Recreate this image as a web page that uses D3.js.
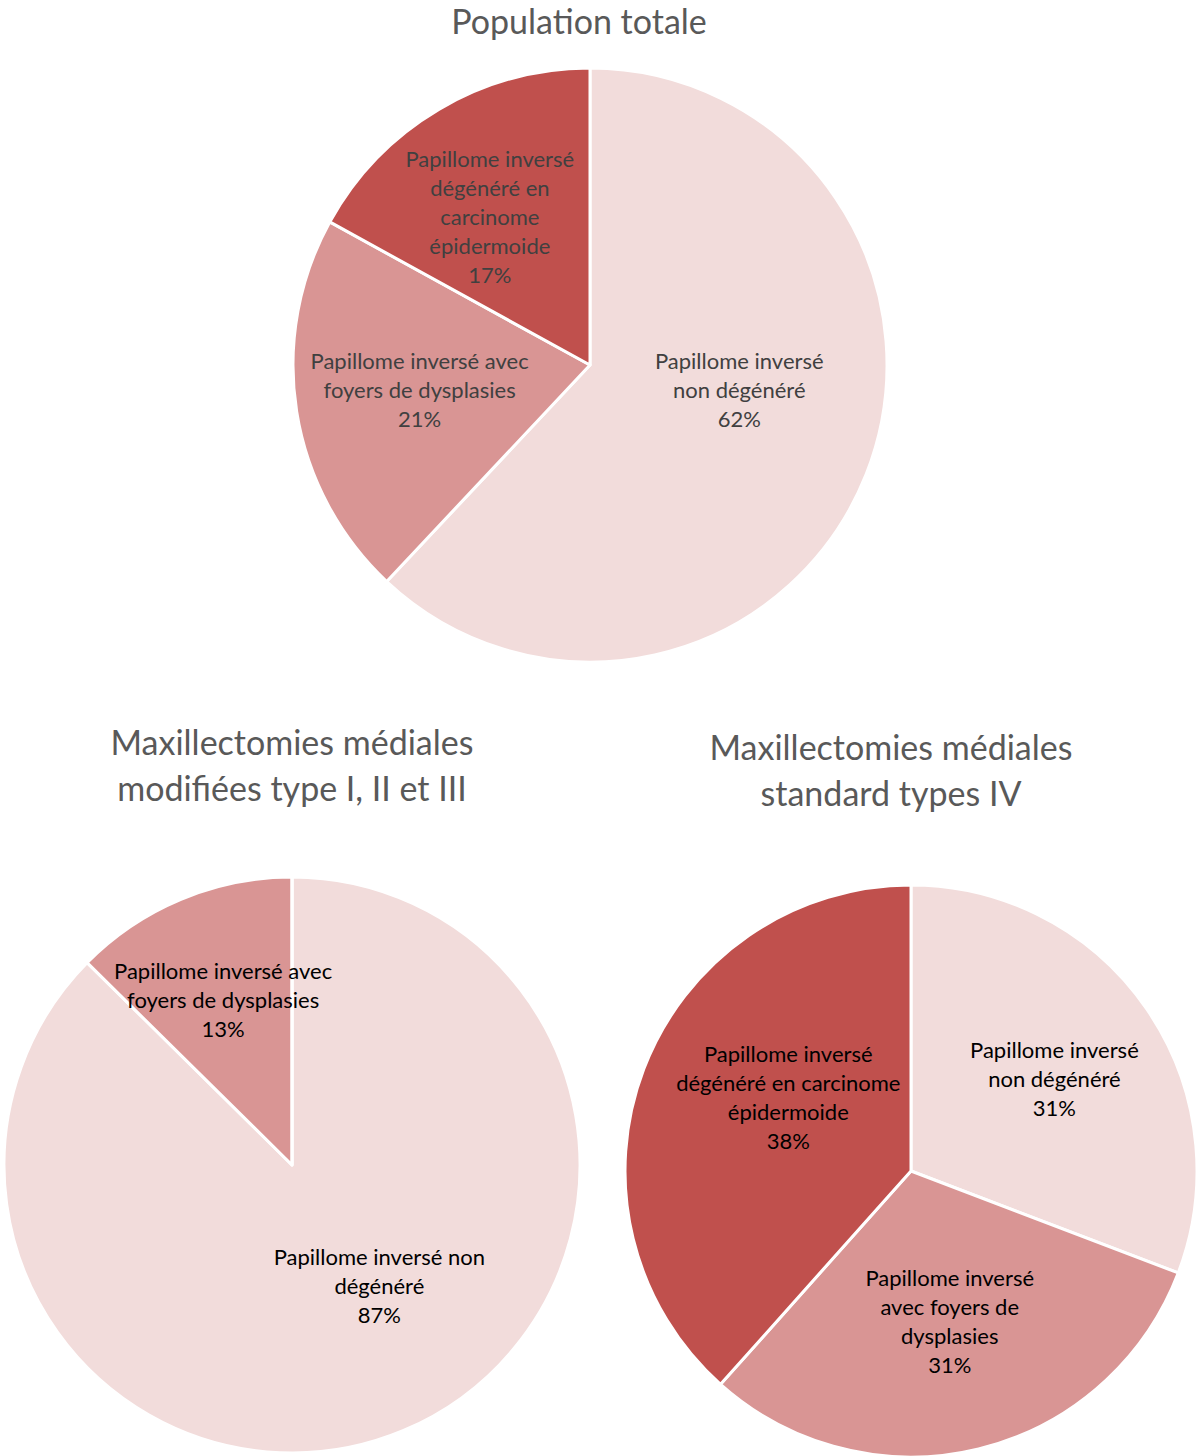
<!DOCTYPE html>
<html lang="en">
<head>
    <meta charset="UTF-8">
    <title>Papillome inversé</title>
    <style>
        body { margin: 0; background: #fff; }
        svg text { font-family: Lato, "Open Sans", sans-serif; }
    </style>
</head>
<body>
    <div id="chart"></div>

    <script src="https://d3js.org/d3.v7.min.js"></script>
    <script>
        // Data (percentages; labels show rounded values)
        const categories = [
            "Papillome inversé non dégénéré",
            "Papillome inversé avec foyers de dysplasies",
            "Papillome inversé dégénéré en carcinome épidermoide"
        ];
        const populationTotale = [62, 21, 17];
        const maxModifiees = [87.4, 12.6, 0];
        const maxStandard = [30.8, 30.8, 38.4];

        // label line breaks as they appear in each chart
        const labelsTotale = [
            ["Papillome inversé", "non dégénéré"],
            ["Papillome inversé avec", "foyers de dysplasies"],
            ["Papillome inversé", "dégénéré en", "carcinome", "épidermoide"]
        ];
        const labelsModifiees = [
            ["Papillome inversé non", "dégénéré"],
            ["Papillome inversé avec", "foyers de dysplasies"],
            []
        ];
        const labelsStandard = [
            ["Papillome inversé", "non dégénéré"],
            ["Papillome inversé", "avec foyers de", "dysplasies"],
            ["Papillome inversé", "dégénéré en carcinome", "épidermoide"]
        ];

        const colors = ["#F2DCDB", "#D99594", "#C0504D"];

        const W = 1198, H = 1456;
        const lineH = 29;

        // chart layout: centre, radius, title, label placement (radius fraction, angle nudge in degrees)
        const charts = [
            {
                values: populationTotale, labels: labelsTotale,
                title: ["Population totale"], titleX: 579, titleY: 22,
                cx: 590, cy: 365, r: 297, labelColor: "#404040",
                labelPos: [[0.51, -11.8], [0.58, 0.5], [0.60, -3.6]]
            },
            {
                values: maxModifiees, labels: labelsModifiees,
                title: ["Maxillectomies médiales", "modifiées type I, II et III"], titleX: 292, titleY: 743,
                cx: 292, cy: 1165, r: 288, labelColor: "#000000",
                labelPos: [[0.52, -13], [0.62, 0], [0.5, 0]]
            },
            {
                values: maxStandard, labels: labelsStandard,
                title: ["Maxillectomies médiales", "standard types IV"], titleX: 891, titleY: 748,
                cx: 911, cy: 1171, r: 286, labelColor: "#000000",
                labelPos: [[0.595, 2], [0.545, -0.7], [0.50, 10]]
            }
        ];

        const svg = d3.select("#chart")
            .append("svg")
            .attr("width", W)
            .attr("height", H);

        const pie = d3.pie().sort(null).value(d => d);

        charts.forEach(c => {
            const g = svg.append("g")
                .attr("transform", `translate(${c.cx},${c.cy})`);

            const arc = d3.arc().innerRadius(0).outerRadius(c.r);
            const arcs = pie(c.values);

            g.selectAll("path")
                .data(arcs)
                .enter()
                .append("path")
                .attr("d", arc)
                .attr("fill", (d, i) => colors[i])
                .attr("stroke", "#fff")
                .attr("stroke-width", 3)
                .attr("stroke-linejoin", "round");

            // data labels
            arcs.forEach((d, i) => {
                if (d.value <= 0) return;
                const [frac, nudge] = c.labelPos[i];
                const a = (d.startAngle + d.endAngle) / 2 + nudge * Math.PI / 180;
                const lx = Math.sin(a) * c.r * frac;
                const ly = -Math.cos(a) * c.r * frac;
                const lines = c.labels[i].concat([Math.round(d.value) + "%"]);
                const t = g.append("text")
                    .attr("text-anchor", "middle")
                    .attr("fill", c.labelColor)
                    .style("font-size", "22px");
                lines.forEach((s, k) => {
                    t.append("tspan")
                        .attr("x", lx)
                        .attr("y", ly + (k - (lines.length - 1) / 2) * lineH)
                        .attr("dy", "0.35em")
                        .text(s);
                });
            });

            // title
            const tt = svg.append("text")
                .attr("text-anchor", "middle")
                .attr("fill", "#595959")
                .style("font-size", "34px");
            c.title.forEach((s, k) => {
                tt.append("tspan")
                    .attr("x", c.titleX)
                    .attr("y", c.titleY + k * 46)
                    .attr("dy", "0.35em")
                    .text(s);
            });
        });
    </script>
</body>
</html>
